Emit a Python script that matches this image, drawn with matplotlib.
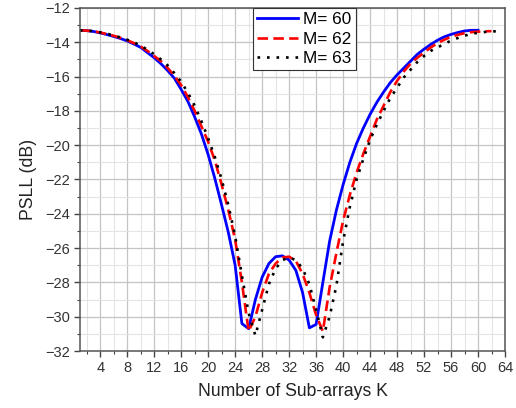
import numpy as np
import matplotlib
matplotlib.use("Agg")
import matplotlib.pyplot as plt
from matplotlib.ticker import MultipleLocator

plt.rcParams['font.family'] = ['Liberation Sans', 'DejaVu Sans']

# PSLL (dB) against number of sub-arrays K
k60 = list(range(1, 61))
psll60 = [-13.3, -13.32, -13.37, -13.45, -13.55, -13.66, -13.78, -13.92, -14.1, -14.3,
          -14.6, -14.9, -15.25, -15.65, -16.1, -16.75, -17.45, -18.35, -19.35, -20.55,
          -21.95, -23.5, -25.1, -27.0, -30.4, -30.7, -29.0, -27.7, -26.9, -26.5,
          -26.45, -26.7, -27.3, -28.6, -30.65, -30.45, -28.0, -25.6, -23.8, -22.3,
          -21.0, -19.9, -19.0, -18.2, -17.5, -16.9, -16.35, -15.9, -15.5, -15.1,
          -14.7, -14.4, -14.12, -13.88, -13.68, -13.54, -13.43, -13.34, -13.3, -13.3]

k62 = list(range(1, 63))
psll62 = [-13.3, -13.32, -13.36, -13.43, -13.52, -13.62, -13.74, -13.88, -14.05, -14.25,
          -14.5, -14.8, -15.1, -15.5, -15.95, -16.5, -17.2, -18.0, -18.9, -19.8,
          -20.9, -22.3, -23.8, -25.5, -28.0, -30.85, -30.0, -28.6, -27.5, -26.9,
          -26.55, -26.5, -26.75, -27.5, -28.6, -29.9, -30.85, -28.3, -26.3, -24.4,
          -22.9, -21.6, -20.5, -19.5, -18.5, -17.7, -16.9, -16.25, -15.7, -15.25,
          -14.9, -14.6, -14.3, -14.05, -13.85, -13.68, -13.56, -13.47, -13.41, -13.38,
          -13.36, -13.35]

k63 = list(range(1, 64))
psll63 = [-13.3, -13.32, -13.35, -13.42, -13.5, -13.6, -13.72, -13.85, -14.0, -14.2,
          -14.43, -14.7, -15.0, -15.35, -15.8, -16.3, -16.95, -17.7, -18.6, -19.6,
          -20.7, -22.0, -23.5, -25.3, -27.6, -29.8, -31.1, -29.6, -28.1, -27.2,
          -26.7, -26.55, -26.7, -27.2, -28.1, -29.6, -31.2, -30.0, -28.2, -25.6,
          -23.6, -22.0, -20.8, -19.7, -18.8, -18.0, -17.25, -16.65, -16.05, -15.6,
          -15.15, -14.8, -14.5, -14.3, -14.1, -13.9, -13.75, -13.62, -13.5, -13.45,
          -13.4, -13.37, -13.35]

fig = plt.figure(figsize=(5.16, 4.08), dpi=100)
ax = fig.add_axes([0.155, 0.1397, 0.8237, 0.8407])

ax.plot(k60, psll60, color='#0000ff', lw=2.0, label='M= 60')
ax.plot(k62, psll62, color='#ff0000', lw=1.9, dashes=(4, 2), label='M= 62')
ax.plot(k63, psll63, color='black', lw=1.9, dashes=(1, 2.6), label='M= 63')

ax.set_xlim(1, 64)
ax.set_ylim(-32, -12)
ax.xaxis.set_minor_locator(MultipleLocator(2))
ax.yaxis.set_major_locator(MultipleLocator(2))
ax.yaxis.set_minor_locator(MultipleLocator(1))
ax.set_xticks(range(4, 65, 4))

ax.grid(which='major', color='#c4c4c4', lw=0.9)
ax.grid(which='minor', color='#e4e4e4', lw=0.8)
ax.set_axisbelow(True)

ax.tick_params(which='major', direction='out', length=4, width=1, color='#444444',
               labelsize=10.5, labelcolor='#333333', pad=3)
ax.tick_params(which='minor', direction='out', length=2.5, width=0.8, color='#444444')
for s in ax.spines.values():
    s.set_color('#555555')
    s.set_linewidth(1.1)

ax.set_xlabel('Number of Sub-arrays K', fontsize=12.7, color='#222222', labelpad=6)
ax.set_ylabel('PSLL (dB)', fontsize=12.7, color='#222222', labelpad=6)

leg = ax.legend(loc='upper left', bbox_to_anchor=(0.407, 1.0), borderaxespad=0,
                fontsize=12.3, handlelength=2.4, labelspacing=0.25, fancybox=False,
                framealpha=1, edgecolor='#333333', borderpad=0.25, handletextpad=0.3)
leg.get_frame().set_linewidth(0.8)

fig.savefig('out.png', dpi=100)
